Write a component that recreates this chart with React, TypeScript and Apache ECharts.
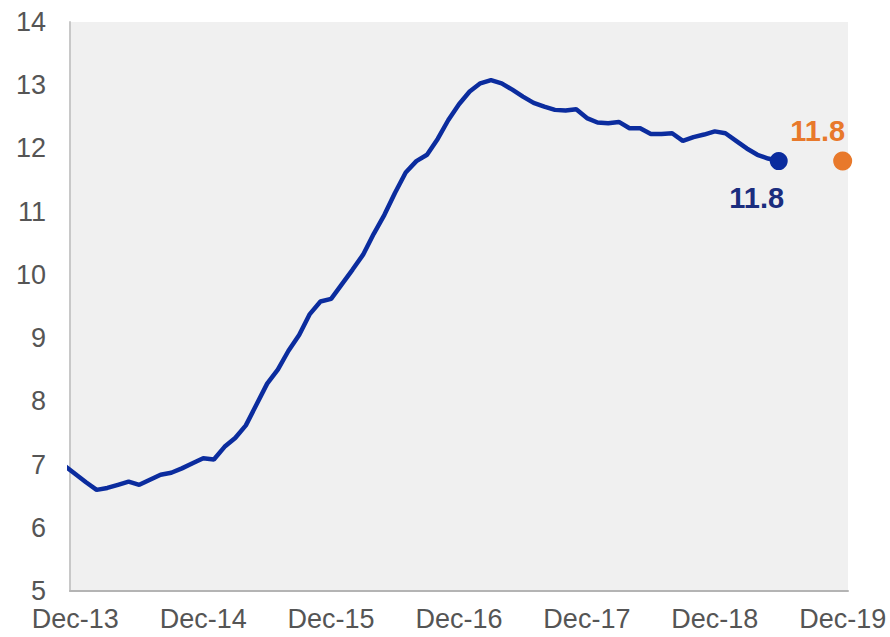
import React, { useEffect, useRef } from "react";
import * as echarts from "echarts";

// month index 0 = Dec-13 (index -1 = Nov-13)
const startMonth = -1;
const seriesValues = [
  6.98, 6.85, 6.72, 6.6, 6.63, 6.68, 6.73, 6.68, 6.76, 6.84, 6.87, 6.94, 7.02,
  7.1, 7.08, 7.28, 7.42, 7.62, 7.95, 8.28, 8.5, 8.8, 9.05, 9.38, 9.58, 9.62,
  9.85, 10.08, 10.32, 10.65, 10.95, 11.3, 11.62, 11.8, 11.9, 12.15, 12.45, 12.7,
  12.9, 13.03, 13.08, 13.03, 12.93, 12.82, 12.72, 12.66, 12.61, 12.6, 12.62,
  12.48, 12.41, 12.4, 12.42, 12.32, 12.32, 12.23, 12.23, 12.24, 12.12, 12.18,
  12.22, 12.27, 12.24, 12.12, 12.0, 11.9, 11.84, 11.8,
];
const lastActual = { month: 66, value: 11.8, label: "11.8" };
const forecast = { month: 72, value: 11.8, label: "11.8" };
const xTickMonths = [0, 12, 24, 36, 48, 60, 72];
const xTickLabels = ["Dec-13", "Dec-14", "Dec-15", "Dec-16", "Dec-17", "Dec-18", "Dec-19"];
const yTicks = [5, 6, 7, 8, 9, 10, 11, 12, 13, 14];

const BLUE = "#0b2c9e";
const NAVY = "#1b2d7e";
const ORANGE = "#e8792b";
const FONT = "Liberation Sans, Arial, sans-serif";

export default function App() {
  const ref = useRef<HTMLDivElement>(null);
  useEffect(() => {
    if (!ref.current) return;
    const chart = echarts.init(ref.current, undefined, { renderer: "svg" });
    const lineData = seriesValues.map((v, i) => [startMonth + i, v]);
    chart.setOption({
      animation: false,
      grid: {
        left: 70,
        right: 42,
        top: 22,
        bottom: 46,
        show: true,
        backgroundColor: "#f0f0f0",
        borderWidth: 0,
      },
      xAxis: {
        type: "value",
        min: -0.5,
        max: 72.5,
        axisLine: { show: true, onZero: false, lineStyle: { color: "#b4b4b4", width: 2 } },
        axisTick: { show: false },
        splitLine: { show: false },
        axisLabel: {
          customValues: xTickMonths,
          formatter: (v: number) => {
            const i = xTickMonths.indexOf(Math.round(v));
            return i >= 0 ? xTickLabels[i] : "";
          },
          color: "#555",
          fontSize: 27,
          fontFamily: FONT,
          margin: 14,
        },
      },
      yAxis: {
        type: "value",
        min: yTicks[0],
        max: yTicks[yTicks.length - 1],
        interval: 1,
        axisLine: { show: true, onZero: false, lineStyle: { color: "#c8c8c8", width: 2 } },
        axisTick: { show: false },
        splitLine: { show: false },
        axisLabel: {
          color: "#555",
          fontSize: 27,
          fontFamily: FONT,
          margin: 24,
        },
      },
      series: [
        {
          type: "line",
          data: lineData,
          showSymbol: false,
          symbol: "none",
          lineStyle: { color: BLUE, width: 4.5 },
          clip: true,
          z: 2,
        },
        {
          type: "scatter",
          data: [[lastActual.month, lastActual.value]],
          symbol: "circle",
          symbolSize: 18,
          itemStyle: { color: BLUE, opacity: 1 },
          label: {
            show: true,
            position: "inside",
            offset: [-22, 37],
            formatter: lastActual.label,
            color: NAVY,
            fontSize: 29,
            fontWeight: "bold",
            fontFamily: FONT,
          },
          z: 3,
        },
        {
          type: "scatter",
          data: [[forecast.month, forecast.value]],
          symbol: "circle",
          symbolSize: 19,
          itemStyle: { color: ORANGE, opacity: 1 },
          label: {
            show: true,
            position: "inside",
            offset: [-25, -30],
            formatter: forecast.label,
            color: ORANGE,
            fontSize: 29,
            fontWeight: "bold",
            fontFamily: FONT,
          },
          z: 3,
        },
      ],
    });
    return () => chart.dispose();
  }, []);
  return <div ref={ref} style={{ width: 890, height: 637, position: "absolute", left: 0, top: 0 }} />;
}
